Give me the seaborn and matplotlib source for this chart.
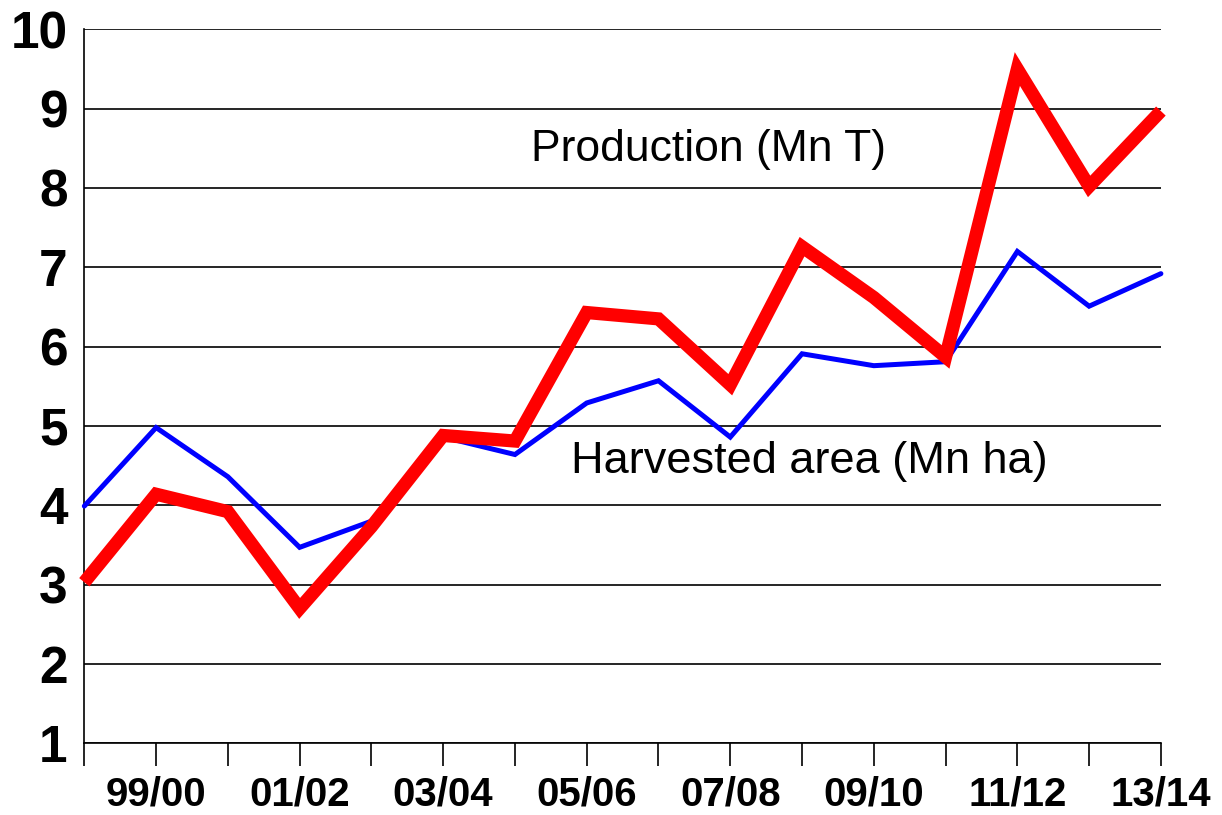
import numpy as np
import pandas as pd
import matplotlib
matplotlib.use("Agg")
import matplotlib.pyplot as plt
import seaborn as sns

# seasons 98/99 .. 13/14
seasons = ["98/99", "99/00", "00/01", "01/02", "02/03", "03/04", "04/05", "05/06",
           "06/07", "07/08", "08/09", "09/10", "10/11", "11/12", "12/13", "13/14"]
production = [3.03, 4.14, 3.92, 2.70, 3.73, 4.88, 4.81, 6.43,
              6.35, 5.52, 7.26, 6.62, 5.87, 9.50, 8.02, 8.97]
area = [3.99, 4.98, 4.36, 3.47, 3.80, 4.86, 4.64, 5.29,
        5.57, 4.86, 5.91, 5.76, 5.81, 7.20, 6.51, 6.92]
shown_labels = ["99/00", "01/02", "03/04", "05/06", "07/08", "09/10", "11/12", "13/14"]
y_ticks = [1, 2, 3, 4, 5, 6, 7, 8, 9, 10]

sns.set_style("white")
plt.rcParams['font.family'] = ['Liberation Sans', 'DejaVu Sans']
plt.rcParams['text.color'] = 'black'
plt.rcParams['xtick.color'] = 'black'
plt.rcParams['ytick.color'] = 'black'

df = pd.DataFrame({"idx": np.arange(len(seasons)), "production": production, "area": area})

fig = plt.figure(figsize=(12.22, 8.15), dpi=100)
ax = fig.add_axes([0.069, 0.088, 0.881, 0.876])

sns.lineplot(data=df, x="idx", y="area", color="#0000ff", linewidth=3.6, ax=ax,
             clip_on=False, solid_joinstyle="miter", zorder=3)
sns.lineplot(data=df, x="idx", y="production", color="#ff0000", linewidth=9.5, ax=ax,
             clip_on=False, solid_joinstyle="miter", solid_capstyle="butt", zorder=4)

ax.set_xlim(0, len(seasons) - 1)
ax.set_ylim(1, 10)
ax.set_yticks(y_ticks)
ax.set_yticklabels([str(v) for v in y_ticks], fontsize=37, fontweight="bold")
ax.set_xticks(df["idx"])
ax.set_xticklabels([s if s in shown_labels else "" for s in seasons],
                   fontsize=29, fontweight="bold")
ax.tick_params(axis="x", direction="out", length=16.5, width=1.2, color="black", pad=7,
               bottom=True)
ax.tick_params(axis="y", length=0, pad=12)
ax.yaxis.grid(True, color="black", linewidth=1.2)
ax.set_axisbelow(True)
for side in ["top", "right"]:
    ax.spines[side].set_visible(False)
for side in ["left", "bottom"]:
    ax.spines[side].set_color("black")
    ax.spines[side].set_linewidth(1.2)
ax.set_xlabel("")
ax.set_ylabel("")

ax.text(8.7, 8.49, "Production (Mn T)", fontsize=32, ha="center", va="center")
ax.text(10.1, 4.55, "Harvested area (Mn ha)", fontsize=32.5, ha="center", va="center")

fig.savefig("out.png", dpi=100)
